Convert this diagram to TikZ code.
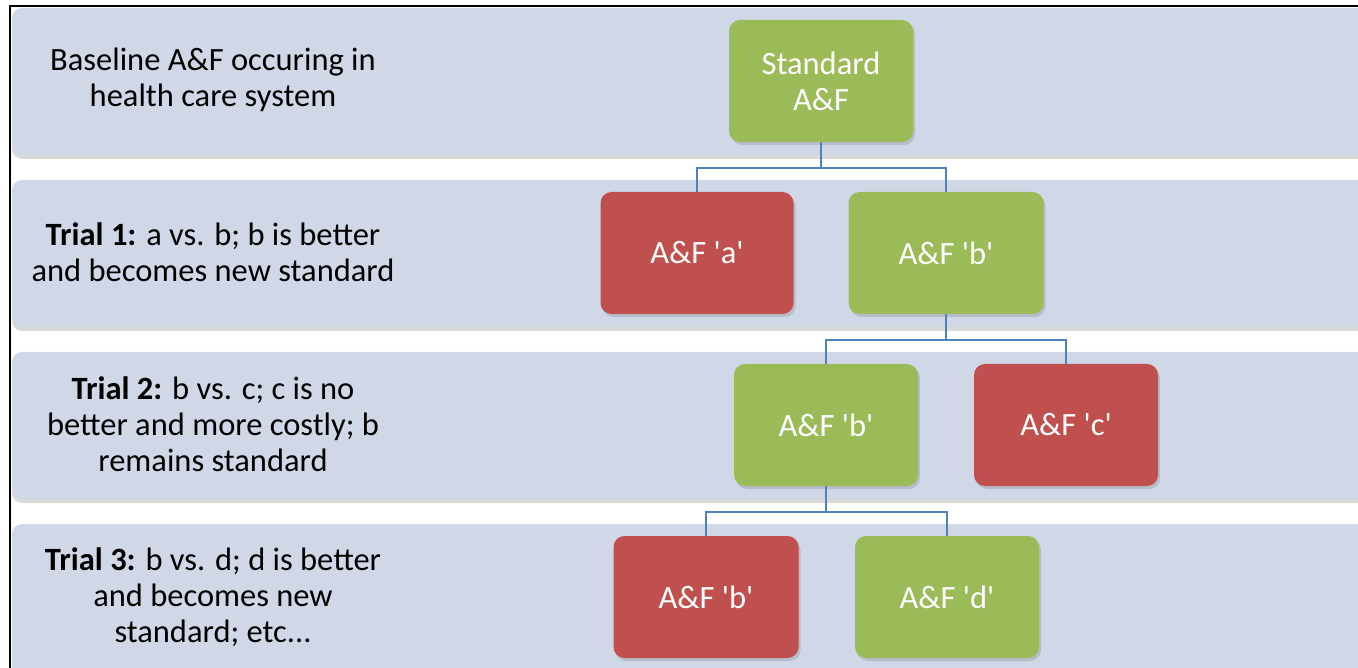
\documentclass[tikz,border=0pt]{standalone}
\usepackage{fontspec}
\setmainfont{Carlito}
\usepackage{tikz}
\usetikzlibrary{shadows}
\definecolor{bandblue}{RGB}{208,216,232}
\definecolor{okgreen}{RGB}{155,187,89}
\definecolor{badred}{RGB}{192,80,77}
\definecolor{linkblue}{RGB}{79,129,189}
\newcommand{\q}{\textquotesingle}
\tikzset{
  band/.style={fill=bandblue,rounded corners=10pt,drop shadow={shadow xshift=0pt,shadow yshift=-4pt,opacity=0.3}},
  choice/.style={rounded corners=11pt,minimum width=184pt,minimum height=122pt,text=white,align=center,
    drop shadow={shadow xshift=2pt,shadow yshift=-3pt,opacity=0.3}},
  keep/.style={choice,fill=okgreen},
  drop/.style={choice,fill=badred},
  rowtext/.style={align=center,text=black},
  link/.style={draw=linkblue,line width=1.8pt}
}

\begin{document}
\begin{tikzpicture}[x=1pt,y=-1pt,font=\fontsize{32.5}{36}\selectfont]
  \useasboundingbox (0,0) rectangle (1358,668);
  % rows
  \path[band] (12,8) rectangle (1380,155);
  \path[band] (12,180) rectangle (1380,327);
  \path[band] (12,352) rectangle (1380,499);
  \path[band] (12,524) rectangle (1380,690);
  \draw[line width=2pt] (10,690) -- (10,6) -- (1370,6);

  \node[rowtext] (row0) at (213,80) {Baseline A\&F occuring in\\health care system};
  \node[rowtext] (row1) at (213,252) {\textbf{Trial 1:} a vs. b; b is better\\and becomes new standard};
  \node[rowtext] (row2) at (213,424) {\textbf{Trial 2:} b vs. c; c is no\\better and more costly; b\\remains standard};
  \node[rowtext] (row3) at (213,597) {\textbf{Trial 3:} b vs. d; d is better\\and becomes new\\standard; etc.{}.{}.};

  % decisions
  \node[keep] (std) at (821,81) {Standard\\A\&F};
  \node[drop,minimum width=193pt] (a1) at (697,253) {A\&F \q a\q};
  \node[keep,minimum width=195pt] (b1) at (946,253) {A\&F \q b\q};
  \node[keep] (b2) at (826,425) {A\&F \q b\q};
  \node[drop] (c2) at (1066,425) {A\&F \q c\q};
  \node[drop,minimum width=185pt] (b3) at (706,597) {A\&F \q b\q};
  \node[keep] (d3) at (947,597) {A\&F \q d\q};

  \draw[link] (std.south) -- ++(0,26) -| (a1.north);
  \draw[link] (std.south) -- ++(0,26) -| (b1.north);
  \draw[link] (b1.south) -- ++(0,26) -| (b2.north);
  \draw[link] (b1.south) -- ++(0,26) -| (c2.north);
  \draw[link] (b2.south) -- ++(0,26) -| (b3.north);
  \draw[link] (b2.south) -- ++(0,26) -| (d3.north);
\end{tikzpicture}
\end{document}
